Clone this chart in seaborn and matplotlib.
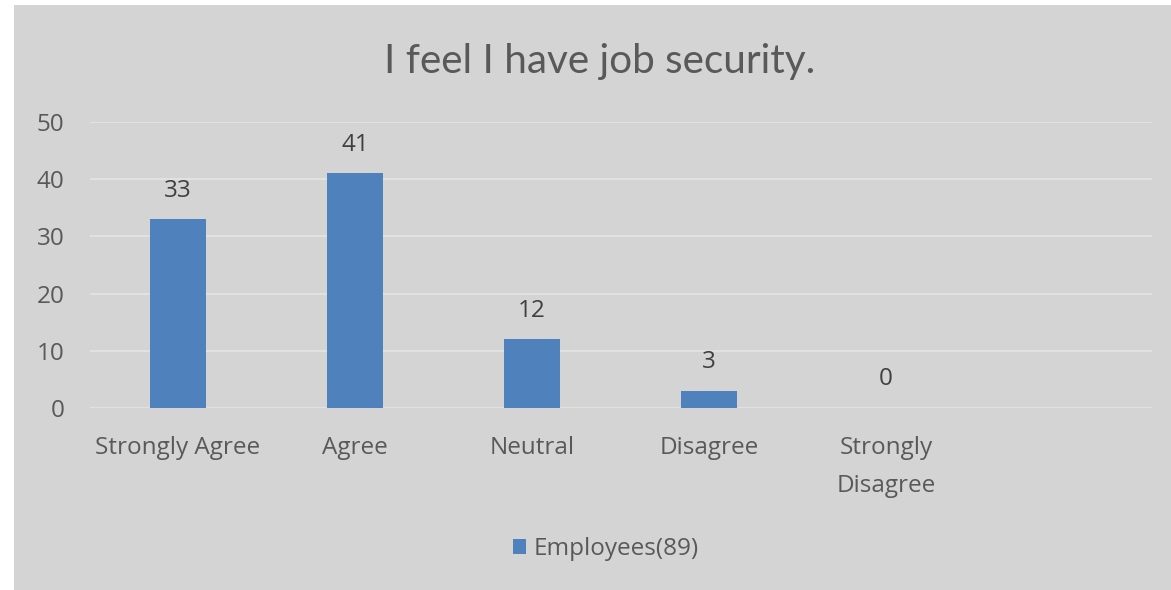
import matplotlib
matplotlib.use("Agg")
import matplotlib.pyplot as plt
import seaborn as sns
import pandas as pd
from matplotlib.patches import Rectangle

categories = ["Strongly Agree", "Agree", "Neutral", "Disagree", "Strongly\nDisagree", ""]
values = [33, 41, 12, 3, 0, None]
series_name = "Employees(89)"
yticks = [0, 10, 20, 30, 40, 50]

sns.set_theme(style="white")
plt.rcParams['font.family'] = ['Open Sans', 'DejaVu Sans']

df = pd.DataFrame({"cat": categories, "val": values, "series": series_name})

fig = plt.figure(figsize=(11.71, 5.9), dpi=100)
fig.patch.set_facecolor("white")
fig.patches.append(Rectangle((14/1171, 0), 1 - 14/1171, 1 - 5/590,
                             transform=fig.transFigure, facecolor="#d4d4d4",
                             edgecolor="none", zorder=-5))

ax = fig.add_axes([89.5/1171, 1 - 408/590, 1062/1171, (408 - 122)/590])
ax.set_facecolor("none")
blue = "#4f81bd"
sns.barplot(data=df, x="cat", y="val", hue="series", palette=[blue],
            width=0.316, ax=ax, order=categories, legend=True, saturation=1,
            linewidth=0)

fs = 17.5
ax.set_ylim(0, 50)
ax.set_xlim(-0.5, len(categories) - 0.5)
ax.set_yticks(yticks)
ax.yaxis.grid(True, color="#e4e4e4", linewidth=1.2)
ax.set_axisbelow(True)
for s in ax.spines.values():
    s.set_visible(False)
ax.tick_params(axis="y", length=0, pad=18, labelsize=fs, labelcolor="#595959")
ax.tick_params(axis="x", length=0, pad=20, labelsize=fs, labelcolor="#595959")
for lab in ax.get_xticklabels():
    lab.set_linespacing(1.8)
ax.set_xlabel("")
ax.set_ylabel("")

for i, v in enumerate(values):
    if v is not None:
        ax.annotate(f"{v}", (i, v), xytext=(0, 12), textcoords="offset points",
                    ha="center", va="bottom", fontsize=fs, color="#404040")

fig.text(0.512, 1 - 62/590, "I feel I have job security.", ha="center", va="center",
         fontsize=29.2, color="#595959", family=["Lato", "DejaVu Sans"])

leg = ax.legend(loc="center", bbox_to_anchor=(606/1171, 1 - 549/590),
                bbox_transform=fig.transFigure, frameon=False, fontsize=fs,
                handlelength=0.55, handleheight=0.55, handletextpad=0.3)
for t in leg.get_texts():
    t.set_color("#595959")

fig.savefig("out.png", dpi=100)
